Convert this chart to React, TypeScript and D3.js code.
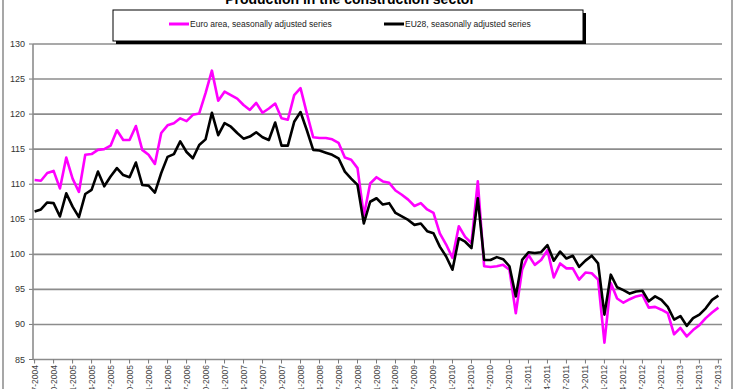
import React from "react";
import * as d3 from "d3";

const title = "Production in the construction sector";
const seriesNames = ["Euro area, seasonally adjusted series", "EU28, seasonally adjusted series"];
const seriesColors = ["#ff00ff", "#000000"];

const euroArea = [
  110.6, 110.5, 111.6, 111.9, 109.4, 113.8, 110.8, 108.9, 114.2, 114.3,
  114.9, 115.0, 115.5, 117.7, 116.3, 116.3, 118.3, 114.9, 114.2, 112.9,
  117.3, 118.4, 118.7, 119.4, 119.0, 119.9, 120.1, 123.0, 126.2, 121.9,
  123.2, 122.7, 122.2, 121.3, 120.6, 121.6, 120.2, 120.8, 121.5, 119.4,
  119.2, 122.7, 123.7, 120.1, 116.7, 116.6, 116.6, 116.4, 115.9, 113.8,
  113.5, 112.3, 105.5, 110.1, 111.0, 110.4, 110.2, 109.1, 108.5, 107.8,
  106.9, 107.3, 106.4, 105.9, 103.0, 101.4, 99.5, 104.0, 102.5, 101.6,
  110.4, 98.3, 98.2, 98.3, 98.5, 97.8, 91.6, 97.8, 99.9, 98.5,
  99.2, 100.6, 96.7, 98.7, 98.0, 98.0, 96.4, 97.4, 97.3, 96.4,
  87.4, 95.9, 93.7, 93.1, 93.6, 94.0, 94.2, 92.4, 92.5, 92.1,
  91.6, 88.6, 89.5, 88.3, 89.2, 89.9, 90.9, 91.7, 92.4,
];

const eu28 = [
  106.1, 106.4, 107.4, 107.3, 105.4, 108.7, 106.8, 105.3, 108.6, 109.2,
  111.8, 109.7, 111.1, 112.3, 111.3, 111.0, 113.1, 109.9, 109.8, 108.8,
  111.6, 113.9, 114.3, 116.1, 114.6, 113.7, 115.6, 116.4, 120.2, 117.0,
  118.7, 118.2, 117.3, 116.5, 116.8, 117.4, 116.7, 116.3, 118.8, 115.5,
  115.5, 118.9, 120.3, 117.7, 114.9, 114.8, 114.5, 114.2, 113.7, 111.8,
  110.8, 109.9, 104.4, 107.5, 108.0, 107.1, 107.3, 105.9, 105.4, 104.9,
  104.2, 104.4, 103.3, 103.0, 101.1, 99.7, 97.8, 102.3, 101.8, 100.9,
  108.0, 99.2, 99.2, 99.6, 99.3, 98.3, 94.0, 99.2, 100.3, 100.2,
  100.3, 101.3, 99.1, 100.4, 99.4, 99.8, 98.2, 99.1, 99.8, 98.7,
  91.4, 97.1, 95.3, 94.9, 94.4, 94.7, 94.8, 93.3, 94.0, 93.5,
  92.5, 90.7, 91.2, 89.8, 90.9, 91.4, 92.3, 93.5, 94.1,
];

const xTickLabels = [
  "07-2004", "10-2004",
  "01-2005", "04-2005", "07-2005", "10-2005",
  "01-2006", "04-2006", "07-2006", "10-2006",
  "01-2007", "04-2007", "07-2007", "10-2007",
  "01-2008", "04-2008", "07-2008", "10-2008",
  "01-2009", "04-2009", "07-2009", "10-2009",
  "01-2010", "04-2010", "07-2010", "10-2010",
  "01-2011", "04-2011", "07-2011", "10-2011",
  "01-2012", "04-2012", "07-2012", "10-2012",
  "01-2013", "04-2013", "07-2013",
];

const yTicks = [85, 90, 95, 100, 105, 110, 115, 120, 125, 130];

export default function App() {
  const W = 740, H = 389;
  const x = d3.scaleLinear().domain([0, euroArea.length - 1]).range([34.6, 718.4]);
  const y = d3.scaleLinear().domain([85, 130]).range([359.5, 44]);
  const axisX = 33;
  const gridRight = 722;
  const line = d3.line<number>().x((_, i) => x(i)).y((d) => y(d));
  const font = "'Liberation Sans', Arial, sans-serif";
  const narrow = "'Liberation Sans Narrow', 'Liberation Sans', Arial, sans-serif";

  return (
    <svg width={W} height={H} style={{ position: "fixed", left: 0, top: 0, background: "#fff" }}>
      <rect x={0} y={0} width={W} height={H} fill="#fff" />
      <rect x={3} y={-10} width={729} height={420} fill="none" stroke="#8a8a8a" strokeWidth={1.5} />
      <text x={350} y={4} textAnchor="middle" fontFamily={font} fontWeight="bold" fontSize={14} fill="#000">{title}</text>

      {yTicks.map((t) => (
        <g key={t}>
          {t !== 85 && (
            <line x1={axisX} x2={gridRight} y1={y(t)} y2={y(t)} stroke="#8c8c8c" strokeWidth={1.6} />
          )}
          <line x1={axisX - 4} x2={axisX} y1={y(t)} y2={y(t)} stroke="#777" strokeWidth={1} />
          <text x={25} y={y(t) + 3} textAnchor="end" fontFamily={font} fontSize={9} fill="#333">{t}</text>
        </g>
      ))}
      <line x1={axisX} x2={axisX} y1={y(130)} y2={y(85)} stroke="#8c8c8c" strokeWidth={1.6} />
      <line x1={axisX} x2={gridRight} y1={y(85)} y2={y(85)} stroke="#8c8c8c" strokeWidth={1.6} />

      {xTickLabels.map((lab, k) => {
        const xi = x(k * 3);
        return (
          <g key={lab}>
            <line x1={xi} x2={xi} y1={y(85)} y2={y(85) + 4} stroke="#777" strokeWidth={1} />
            <text
              transform={`translate(${xi + 3},${365}) rotate(-90)`}
              textAnchor="end"
              fontFamily={font}
              fontSize={8.5}
              fill="#444"
            >
              {lab}
            </text>
          </g>
        );
      })}

      <path d={line(euroArea) || ""} fill="none" stroke={seriesColors[0]} strokeWidth={2.6} strokeLinejoin="round" />
      <path d={line(eu28) || ""} fill="none" stroke={seriesColors[1]} strokeWidth={2.6} strokeLinejoin="round" />

      <g>
        <rect x={116} y={13} width={470} height={31} fill="#000" />
        <rect x={113} y={10} width={470} height={31} fill="#fff" stroke="#000" strokeWidth={1} />
        <line x1={169} x2={189} y1={24} y2={24} stroke={seriesColors[0]} strokeWidth={3} />
        <text x={190} y={27} fontFamily={narrow} fontSize={8.5} fill="#222">{seriesNames[0]}</text>
        <line x1={384} x2={404} y1={24} y2={24} stroke={seriesColors[1]} strokeWidth={3} />
        <text x={405} y={27} fontFamily={narrow} fontSize={8.5} fill="#222">{seriesNames[1]}</text>
      </g>
    </svg>
  );
}
